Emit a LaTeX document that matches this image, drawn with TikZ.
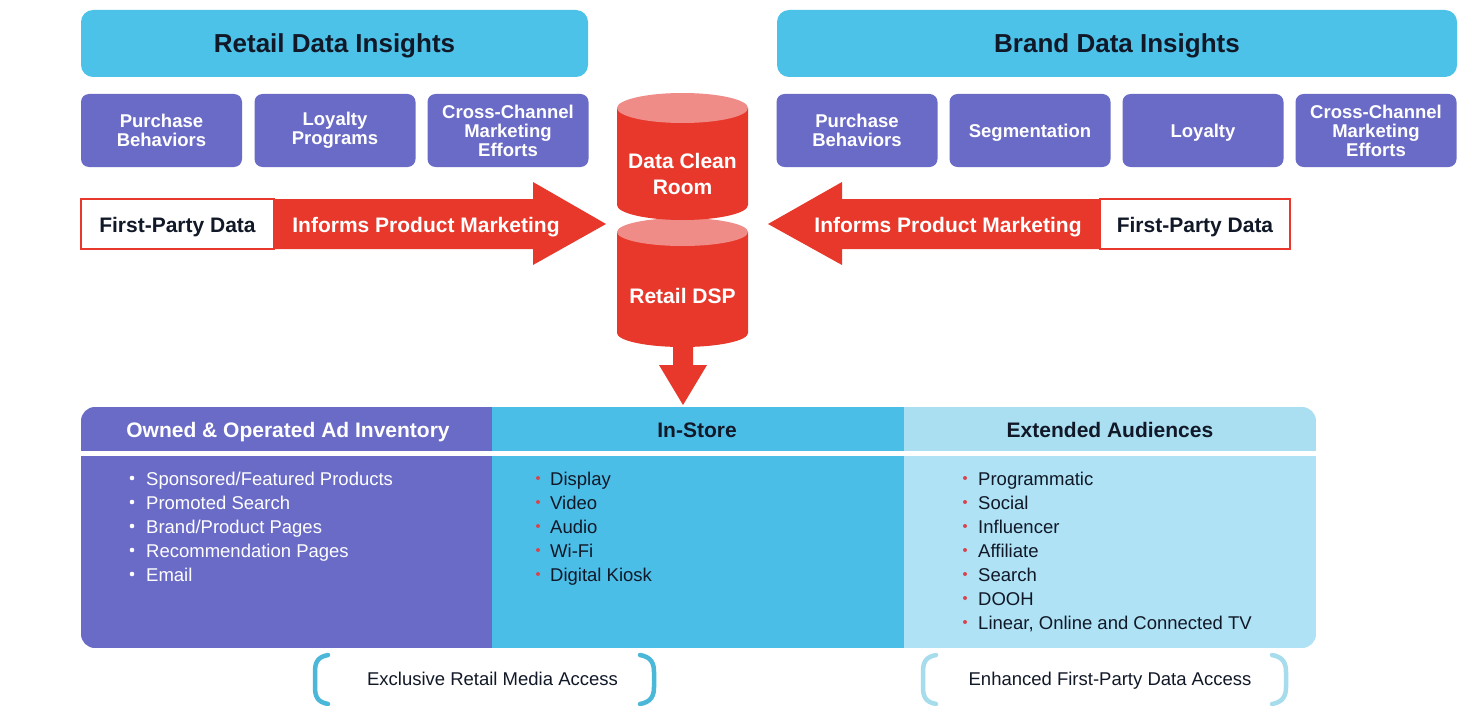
\documentclass[tikz,border=0pt]{standalone}
\usepackage{fontspec}
\setmainfont{Liberation Sans}
\definecolor{topblue}{HTML}{4DC2E9}
\definecolor{purp}{HTML}{6A6BC6}
\definecolor{rred}{HTML}{E8382B}
\definecolor{pink}{HTML}{F08C88}
\definecolor{instore}{HTML}{4BBEE7}
\definecolor{extlight}{HTML}{AADFF2}
\definecolor{extbody}{HTML}{AEE2F4}
\definecolor{darktxt}{HTML}{111827}
\definecolor{brackA}{HTML}{4BB8D9}
\definecolor{brackB}{HTML}{A6DCEC}
\definecolor{bulred}{HTML}{D9454F}
\tikzset{
  titlebox/.style={fill=topblue, rounded corners=12pt, minimum height=67pt, inner sep=0pt,
    text depth=0pt, font=\fontsize{26}{30}\selectfont\bfseries, text=darktxt},
  catbox/.style={fill=purp, rounded corners=8pt, minimum width=161pt, minimum height=73pt,
    inner sep=0pt, align=center, text=white, font=\fontsize{18.5}{19}\selectfont\bfseries},
  arrowtxt/.style={font=\fontsize{21}{25}\selectfont\bfseries, inner sep=0pt, text depth=0pt},
  cyltxt/.style={font=\fontsize{21}{26}\selectfont\bfseries, text=white, align=center, inner sep=0pt},
  headtxt/.style={font=\fontsize{21}{25}\selectfont\bfseries, inner sep=0pt, text depth=0pt},
  itemtxt/.style={font=\fontsize{18.5}{22}\selectfont, anchor=base west, inner sep=0pt},
  brack/.style={line width=4.5pt, line cap=round},
  notetxt/.style={font=\fontsize{18.5}{22}\selectfont, text=darktxt, inner sep=0pt, text depth=0pt}
}
\begin{document}
\begin{tikzpicture}[x=1pt, y=-1pt]
\useasboundingbox (0,0) rectangle (1482,706);
\fill[white] (0,0) rectangle (1482,706);

% Title boxes
\node[titlebox, minimum width=507pt] (retail) at (334.5,43.5) {Retail Data Insights};
\node[titlebox, minimum width=680pt] (brand) at (1117,43.5) {Brand Data Insights};

% Category boxes
\node[catbox] (rpb) at (161.5,130.5) {Purchase\\Behaviors};
\node[catbox] (rlp) at (335,130.5) {Loyalty\\Programs};
\node[catbox] (rcc) at (508,130.5) {Cross-Channel\\Marketing\\Efforts};
\node[catbox] (bpb) at (857,130.5) {Purchase\\Behaviors};
\node[catbox, text depth=0pt] (bseg) at (1030,130.5) {Segmentation};
\node[catbox, text depth=0pt] (bloy) at (1203,130.5) {Loyalty};
\node[catbox] (bcc) at (1376,130.5) {Cross-Channel\\Marketing\\Efforts};

% Left arrow
\fill[rred] (274,199) -- (533,199) -- (533,182) -- (606,224) -- (533,265) -- (533,249) -- (274,249) -- cycle;
\draw[rred, line width=2.5pt, fill=white] (81,199) rectangle (274,249);
\node[arrowtxt, text=darktxt] (lfpd) at (177.5,224.5) {First-Party Data};
\node[arrowtxt, text=white] (lipm) at (426,224.5) {Informs Product Marketing};

% Right arrow
\fill[rred] (1100,199) -- (842,199) -- (842,182) -- (768,224) -- (842,265) -- (842,249) -- (1100,249) -- cycle;
\draw[rred, line width=2.5pt, fill=white] (1100,199) rectangle (1290,249);
\node[arrowtxt, text=darktxt] (rfpd) at (1195,224.5) {First-Party Data};
\node[arrowtxt, text=white] (ripm) at (948,224.5) {Informs Product Marketing};

% Down arrow
\fill[rred] (673,340) -- (693,340) -- (693,365) -- (707,365) -- (683,405) -- (659,365) -- (673,365) -- cycle;

% Lower cylinder (Retail DSP)
\fill[rred] (617,232) -- (617,333) arc[start angle=180, end angle=360, x radius=65.5pt, y radius=14pt] -- (748,232) -- cycle;
\fill[pink] (682.5,232) ellipse [x radius=65.5pt, y radius=14pt];
% Upper cylinder (Data Clean Room)
\fill[rred] (617,108) -- (617,205) arc[start angle=180, end angle=360, x radius=65.5pt, y radius=15pt] -- (748,108) -- cycle;
\fill[pink] (682.5,108) ellipse [x radius=65.5pt, y radius=15pt];
\node[cyltxt] (dcr) at (682.5,174) {Data Clean\\Room};
\node[cyltxt] (dsp) at (682.5,296) {Retail DSP};

% Bottom panel
\begin{scope}
\clip[rounded corners=14pt] (81,407) rectangle (1316,648);
\fill[purp] (81,407) rectangle (492,648);
\fill[instore] (492,407) rectangle (904,648);
\fill[extlight] (904,407) rectangle (1316,451);
\fill[extbody] (904,451) rectangle (1316,648);
\fill[white] (81,451) rectangle (1316,456);
\end{scope}
\node[headtxt, text=white] (ooh) at (288,430) {Owned \& Operated Ad Inventory};
\node[headtxt, text=darktxt] (ish) at (697,430) {In-Store};
\node[headtxt, text=darktxt] (eah) at (1110,430) {Extended Audiences};

% Owned items
\foreach \t [count=\i from 0] in {Sponsored/Featured Products, Promoted Search, Brand/Product Pages, Recommendation Pages, Email}{
  \fill[white] (132,{478+24*\i}) circle (2.3pt);
  \node[itemtxt, text=white] (oo\i) at (146,{485+24*\i}) {\t};
}
% In-store items
\foreach \t [count=\i from 0] in {Display, Video, Audio, Wi-Fi, Digital Kiosk}{
  \fill[bulred] (538,{478+24*\i}) circle (2pt);
  \node[itemtxt, text=darktxt] (is\i) at (550,{485+24*\i}) {\t};
}
% Extended items
\foreach \t [count=\i from 0] in {Programmatic, Social, Influencer, Affiliate, Search, DOOH, {Linear, Online and Connected TV}}{
  \fill[bulred] (965,{478+24*\i}) circle (2pt);
  \node[itemtxt, text=darktxt] (ea\i) at (978,{485+24*\i}) {\t};
}

% Brackets
\draw[brack, brackA] (328,655) .. controls (317,657) and (315,663) .. (315,672) -- (315,687) .. controls (315,696) and (317,702) .. (328,704);
\draw[brack, brackA] (640,655) .. controls (651,657) and (654,663) .. (654,672) -- (654,687) .. controls (654,696) and (651,702) .. (640,704);
\node[notetxt] (erma) at (492.5,679) {Exclusive Retail Media Access};
\draw[brack, brackB] (936,655) .. controls (925,657) and (923,663) .. (923,672) -- (923,687) .. controls (923,696) and (925,702) .. (936,704);
\draw[brack, brackB] (1272,655) .. controls (1283,657) and (1286,663) .. (1286,672) -- (1286,687) .. controls (1286,696) and (1283,702) .. (1272,704);
\node[notetxt] (efpd) at (1110,679) {Enhanced First-Party Data Access};
\end{tikzpicture}
\end{document}
